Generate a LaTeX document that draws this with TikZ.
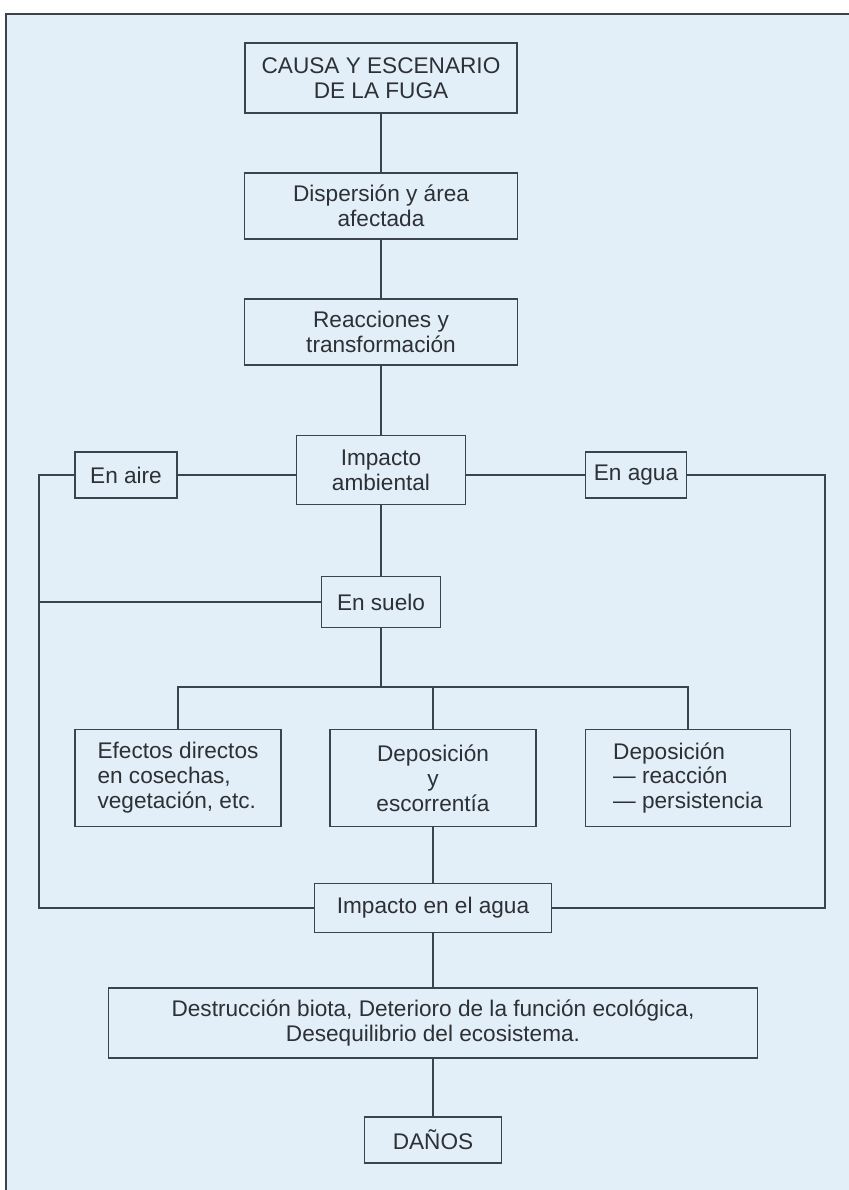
\documentclass[tikz,border=0pt]{standalone}
\usepackage{fontspec}
\setmainfont{Liberation Sans}
\definecolor{fondo}{RGB}{226,238,248}
\definecolor{linea}{RGB}{58,68,78}
\definecolor{texto}{RGB}{45,48,52}
\tikzset{
  caja/.style={draw=linea, line width=1.3pt, fill=fondo, inner sep=0pt,
    align=center, text=texto, font=\fontsize{19.3}{21.3}\selectfont},
  tam/.style 2 args={minimum width=#1*0.03cm, minimum height=#2*0.03cm},
  enlace/.style={draw=linea, line width=1.3pt}
}
\begin{document}
\begin{tikzpicture}[x=0.03cm, y=-0.03cm]
  \useasboundingbox (0,0) rectangle (849,1190);
  % Marco
  \fill[fondo] (6,14) rectangle (849,1190);
  \draw[linea, line width=1.6pt] (6,1190) -- (6,14) -- (849,14);
  % Cadena superior
  \node[caja, tam={272}{70}] (causa) at (381,78) {CAUSA Y ESCENARIO\\DE LA FUGA};
  \node[caja, tam={273}{66}] (disp) at (381,206) {Dispersión y área\\afectada};
  \node[caja, tam={273}{66}] (reac) at (381,332) {Reacciones y\\transformación};
  \node[caja, tam={169}{69}] (impamb) at (381,470) {Impacto\\ambiental};
  \node[caja, tam={102}{46}] (aire) at (126,475) {En aire};
  \node[caja, tam={101}{46}] (agua) at (636,475) {En agua};
  \node[caja, tam={119}{51}] (suelo) at (381,602) {En suelo};
  % Tres efectos
  \node[caja, tam={206}{97}, align=left] (efectos) at (178,778) {Efectos directos\\en cosechas,\\vegetación, etc.};
  \node[caja, tam={206}{97}] (escorr) at (433,778) {Deposición\\y\\escorrentía};
  \node[caja, tam={205}{97}, align=left] (persis) at (688,778) {Deposición\\— reacción\\— persistencia};
  % Cadena inferior
  \node[caja, tam={237}{49}] (impagua) at (433,908) {Impacto en el agua};
  \node[caja, tam={649}{70}] (destr) at (433,1023) {Destrucción biota, Deterioro de la función ecológica,\\Desequilibrio del ecosistema.};
  \node[caja, tam={137}{46}] (danos) at (433,1140) {DAÑOS};
  \coordinate (izq) at (39,0);
  \coordinate (der) at (825,0);
  \coordinate (rama) at (0,687);
  % Enlaces
  \draw[enlace] (causa) -- (disp);
  \draw[enlace] (disp) -- (reac);
  \draw[enlace] (reac) -- (impamb);
  \draw[enlace] (impamb) -- (suelo);
  \draw[enlace] (aire.east) -- (aire.east -| impamb.west);
  \draw[enlace] (agua.west) -- (agua.west -| impamb.east);
  \draw[enlace] (aire.west) -| (izq |- impagua) -- (impagua.west);
  \draw[enlace] (agua.east) -| (der |- impagua) -- (impagua.east);
  \draw[enlace] (suelo.west) -- (izq |- suelo.west);
  \draw[enlace] (suelo.south) -- (suelo |- rama);
  \draw[enlace] (efectos.north) |- (rama -| persis) -- (persis.north);
  \draw[enlace] (rama -| escorr) -- (escorr.north);
  \draw[enlace] (escorr) -- (impagua);
  \draw[enlace] (impagua) -- (destr);
  \draw[enlace] (destr) -- (danos);
\end{tikzpicture}
\end{document}
